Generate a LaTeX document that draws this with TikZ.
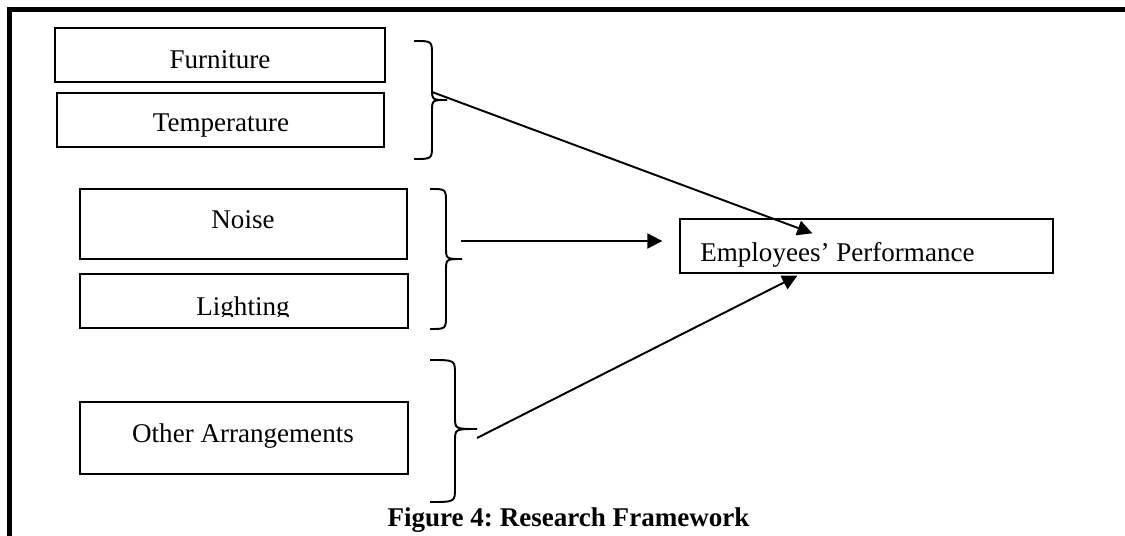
\documentclass[tikz,border=0pt]{standalone}
\usepackage{fontspec}
\setmainfont{Liberation Serif}
\usepackage{tikz}
\usetikzlibrary{arrows.meta, calc}
\frenchspacing

\begin{document}
\begin{tikzpicture}[x=0.02cm, y=-0.02cm,
    font=\fontsize{15.4pt}{18pt}\selectfont,
    box/.style={draw, line width=0.8pt, inner sep=0pt},
    lbl/.style={anchor=base, inner sep=0pt},
    con/.style={line width=1.1pt, -{Triangle[length=0.3cm, width=0.3cm]}},
    brc/.style={line width=1.1pt}]
  \useasboundingbox (0,0) rectangle (1125,536);
  % outer frame (top and left only)
  \draw[line width=0.1cm] (1125,9.5) -- (9.5,9.5) -- (9.5,536);
  % factor boxes
  \node[box, minimum width=6.6cm, minimum height=1.08cm] (furn) at (220,55) {};
  \node[box, minimum width=6.54cm, minimum height=1.08cm] (temp) at (220.5,120) {};
  \node[box, minimum width=6.54cm, minimum height=1.4cm] (noise) at (243.5,224) {};
  \node[box, minimum width=6.56cm, minimum height=1.08cm] (light) at (244,301) {};
  \node[box, minimum width=6.56cm, minimum height=1.44cm] (other) at (244,438) {};
  % outcome box
  \node[box, minimum width=7.46cm, minimum height=1.08cm] (perf) at (866.5,246) {};
  % box texts
  \node[lbl] (furntxt) at (furn.center |- 0,69) {Furniture};
  \node[lbl] (temptxt) at (221,132) {Temperature};
  \node[lbl] (noisetxt) at (243,229) {Noise};
  \begin{scope}
    \clip (light.north west) rectangle (408,317);
    \node[lbl] (lighttxt) at (243,316) {Lighting};
  \end{scope}
  \node[lbl] (othertxt) at (243,442) {Other Arrangements};
  \node[lbl, anchor=base west] (perftxt) at (700,262) {Employees’ Performance};
  % braces
  \foreach \xa/\xb/\xc/\ya/\ym/\yb/\nm in {414/432/447/41/100/159/br1,
      430/446/462/189/259/329/br2, 430/455/477/360/429/502/br3}{
    \draw[brc] (\xa,\ya) .. controls (\xb,\ya) .. (\xb,\ya+14) -- (\xb,\ym-12)
      .. controls (\xb,\ym) .. (\xc,\ym) .. controls (\xb,\ym) .. (\xb,\ym+12)
      -- (\xb,\yb-14) .. controls (\xb,\yb) .. (\xa,\yb);
    \coordinate (\nm) at (\xc,\ym);
  }
  % arrows to performance
  \coordinate (from1) at ($(br1)+(-15,-8)$);
  \coordinate (from2) at ($(br2)+(-1,-18)$);
  \coordinate (from3) at ($(br3)+(0,9)$);
  \draw[con] (from1) -- ($(perf.north west)+(133,15)$);
  \draw[con] (from2) -- ($(perf.west)+(-17,-5)$);
  \draw[con] (from3) -- ($(perf.south west)+(118,2)$);
  % caption
  \node[lbl, font=\fontsize{15.4pt}{18pt}\selectfont\bfseries] (caption) at (568.5,526) {Figure 4: Research Framework};
\end{tikzpicture}
\end{document}
